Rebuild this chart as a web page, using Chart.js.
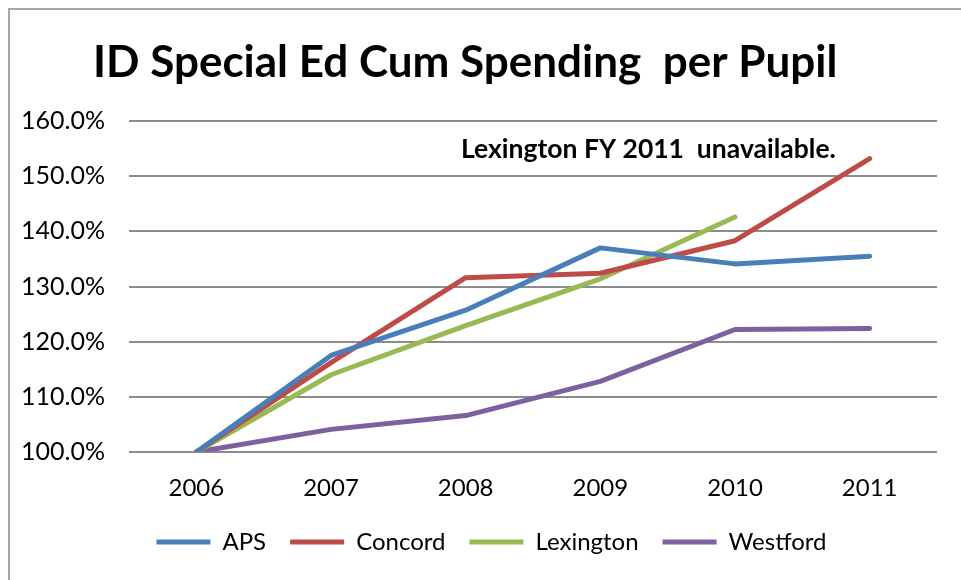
<!DOCTYPE html>
<html>
<head>
<meta charset="utf-8">
<script src="https://cdn.jsdelivr.net/npm/chart.js@4.4.1/dist/chart.umd.min.js"></script>
<style>
  html, body { margin: 0; padding: 0; background: #fff; }
  #wrap { width: 961px; height: 580px; }
</style>
</head>
<body>
<div id="wrap"><canvas id="chart" width="961" height="580"></canvas></div>
<script>
// data (percent of 2006 spending)
const years = ['2006', '2007', '2008', '2009', '2010', '2011'];
const aps = [100, 117.5, 125.7, 137.0, 134.1, 135.5];
const concord = [100, 116.2, 131.6, 132.4, 138.3, 153.2];
const lexington = [100, 114.0, 122.9, 131.4, 142.6, null]; // FY 2011 unavailable
const westford = [100, 104.1, 106.6, 112.8, 122.2, 122.4];
const yTicks = [100, 110, 120, 130, 140, 150, 160];

const chartTitle = 'ID Special Ed Cum Spending  per Pupil';
const noteText = 'Lexington FY 2011  unavailable.';

const ctx = document.getElementById('chart');

// legend sits a bit right of the canvas centre, like in the original
const legendShift = {
  id: 'legendShift',
  afterLayout(chart) {
    chart.legend.left += 18;
    chart.legend.right += 18;
  }
};

// title, note and the frame drawn on top of the chart
const extras = {
  id: 'extras',
  afterDraw(chart) {
    const c = chart.ctx;
    const area = chart.chartArea;
    c.save();
    c.strokeStyle = '#a6a6a6';
    c.lineWidth = 2;
    c.beginPath();
    c.moveTo(9, 580);
    c.lineTo(9, 9);
    c.lineTo(961, 9);
    c.stroke();

    c.fillStyle = '#000';
    c.textBaseline = 'alphabetic';
    c.textAlign = 'left';
    c.font = 'bold 44px Lato';
    c.fillText(chartTitle, 93, 77);

    c.font = 'bold 26.5px Lato';
    c.fillText(noteText, area.left + 332, area.top + 37);
    c.restore();
  }
};

function line(label, data, color) {
  return {
    label: label,
    data: data,
    borderColor: color,
    backgroundColor: color,
    borderWidth: 5,
    borderCapStyle: 'round',
    borderJoinStyle: 'round',
    pointRadius: 0,
    pointHoverRadius: 0,
    tension: 0,
    fill: false
  };
}

new Chart(ctx, {
  type: 'line',
  data: {
    labels: years,
    datasets: [
      line('APS', aps, '#4a7ebb'),
      line('Concord', concord, '#be4b48'),
      line('Lexington', lexington, '#98b954'),
      line('Westford', westford, '#7d60a0')
    ]
  },
  options: {
    responsive: false,
    animation: false,
    layout: {
      padding: { top: 121, left: 10, right: 24, bottom: 16 }
    },
    scales: {
      x: {
        offset: true,
        grid: { display: false, drawTicks: false },
        border: { display: false },
        ticks: {
          color: '#000',
          padding: 22,
          font: { family: 'Lato', size: 24 }
        },
        afterFit(scale) { scale.height = 54; }
      },
      y: {
        min: 100,
        max: 160,
        grid: { color: '#8c8c8c', lineWidth: 2, drawTicks: false },
        border: { display: false },
        afterBuildTicks(scale) {
          scale.ticks = yTicks.map(v => ({ value: v }));
        },
        ticks: {
          color: '#000',
          padding: 24,
          font: { family: 'Lato', size: 25 },
          callback: (v) => v.toFixed(1) + '%'
        },
        afterFit(scale) { scale.width = 119; }
      }
    },
    plugins: {
      title: { display: false },
      tooltip: { enabled: false },
      legend: {
        position: 'bottom',
        align: 'center',
        labels: {
          usePointStyle: true,
          pointStyle: 'line',
          pointStyleWidth: 54,
          boxHeight: 24,
          padding: 24,
          color: '#000',
          font: { family: 'Lato', size: 24 }
        }
      }
    }
  },
  plugins: [legendShift, extras]
});
</script>
</body>
</html>
